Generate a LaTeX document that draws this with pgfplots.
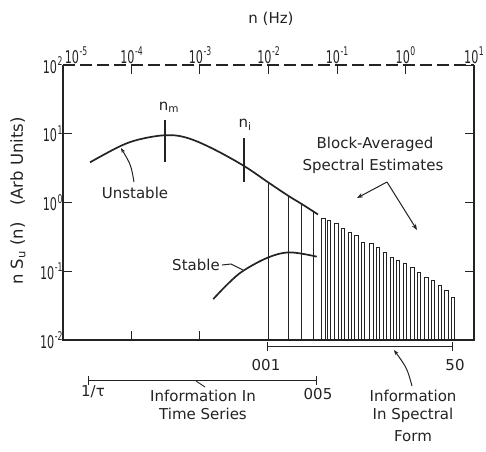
\documentclass[border=0pt]{standalone}
\usepackage{fontspec}
\setmainfont{DejaVu Sans}
\newfontfamily\tickfont{DejaVu Sans}[FakeStretch=0.64]
\usepackage{pgfplots}
\pgfplotsset{compat=1.18}
\usetikzlibrary{arrows.meta}
\definecolor{ink}{RGB}{35,35,35}
\newcommand\lab{\fontsize{15}{17}\selectfont}
\newcommand\tl[1]{{\tickfont\fontsize{17.5}{19}\selectfont 10\kern0.5pt\raisebox{0.42em}{\fontsize{12}{12}\selectfont #1}}}
\begin{document}
\begin{tikzpicture}[color=ink]
\begin{axis}[
  name=ax, at={(0,0)}, anchor=south west,
  scale only axis, width=411pt, height=275pt,
  xmode=log, ymode=log, xmin=1e-5, xmax=10, ymin=1e-2, ymax=100,
  log origin y=infty,
  axis line style={draw=none},
  clip=false,
  xtick={1e-5,1e-4,1e-3,1e-2,1e-1,1,10},
  xticklabels={\hspace{26pt}\tl{-5},\tl{-4},\tl{-3},\tl{-2},\tl{-1},\tl{0},\tl{1}},
  xticklabel pos=upper, xtick pos=both,
  ytick={1e-2,1e-1,1,10,100},
  yticklabels={\tl{-2},\tl{-1},\tl{0},\tl{1},\tl{2}},
  ytick pos=both, yticklabel pos=lower,
  tick align=inside, major tick length=9pt,
  minor tick style={draw=none},
  major tick style={ink, line width=1pt},
  tick label style={text=ink},
  xticklabel style={yshift=-2pt},
  yticklabel style={xshift=3pt},
]
% Unstable spectrum
\addplot[ink, line width=1.7pt, smooth, tension=0.6] coordinates {
 (2.48e-5,3.84) (6.79e-5,6.58) (1.33e-4,8.32) (3.08e-4,9.51) (6.04e-4,8.89)
 (1.40e-3,6.35) (4.25e-3,3.47) (0.01,1.95) (0.0195,1.25) (0.0306,0.95) (0.0528,0.67)};
% Stable spectrum
\addplot[ink, line width=1.7pt, smooth, tension=0.6] coordinates {
 (1.56e-3,0.0393) (2.57e-3,0.066) (4.28e-3,0.1016) (9.93e-3,0.159) (0.0206,0.188) (0.0506,0.163)};
% full-height estimate lines
\addplot[ycomb, ink, line width=1.1pt] coordinates {
 (0.01,1.95) (0.0195,1.25) (0.0306,0.95) (0.0451,0.76)};
% block-averaged spectral estimates
\addplot[ybar, bar width=3.5pt, bar shift=0pt, fill=white, draw=ink, line width=1pt] coordinates {
 (0.0631,0.583) (0.0764,0.546) (0.0991,0.493) (0.1225,0.417) (0.155,0.368)
 (0.194,0.330) (0.240,0.263) (0.321,0.252) (0.397,0.222) (0.502,0.188)
 (0.630,0.159) (0.778,0.142) (0.984,0.129) (1.27,0.114) (1.57,0.0960)
 (2.04,0.0811) (2.52,0.0726) (3.19,0.0614) (3.99,0.0519) (4.93,0.0415)};
\end{axis}
\begin{scope}[shift={(-63pt,340pt)}, x=1pt, y=-1pt, font=\lab, text=ink]
% frame
\draw[line width=1.6pt] (63,65) -- (63,340) -- (474,340) -- (474,65);
\draw[line width=1.3pt, dash pattern=on 12pt off 5pt] (63,65) -- (474,65);
% axis titles
\node at (271,19) {n (Hz)};
\node[rotate=90, font=\fontsize{16.5}{18}\selectfont] at (18,201) {n S\textsubscript{u} (n)\quad(Arb Units)};
% markers
\draw[line width=1.3pt] (165,120) -- (165,162);
\draw[line width=1.3pt] (244,138) -- (244,182);
\node at (169,107) {n\textsubscript{m}};
\node at (245,125) {n\textsubscript{i}};
% labels on curves
\node at (135,193) {Unstable};
\draw[line width=1pt, -{Stealth[length=5pt]}] (134,182) .. controls (131,165) .. (121,148);
\node at (196,265) {Stable};
\draw[line width=1pt] (222,265) -- (231,264) -- (243,270);
\node at (375,144) {Block-Averaged};
\node at (373,166) {Spectral Estimates};
\draw[line width=1pt, -{Stealth[length=6pt]}] (387,182) -- (357,198);
\draw[line width=1pt, -{Stealth[length=6pt]}] (387,182) -- (417,230);
% lower scale
\node at (266,365) {001};
\node at (455,365) {50};
\draw[line width=1pt, {Bar[width=9pt]}-{Bar[width=9pt]}] (267,346) -- (453,346);
\draw[line width=1pt, {Bar[width=9pt]}-{Bar[width=9pt]}] (88,380) -- (317,380);
\node at (93,392) {1/τ};
\node at (203,396) {Information In};
\node at (203,414) {Time Series};
\node at (318,394) {005};
\node at (413,396) {Information};
\node at (413,415) {In Spectral};
\node at (413,436) {Form};
\draw[line width=1pt, -{Stealth[length=5pt]}] (412,386) .. controls (407,368) .. (394,350);
\draw[line width=0.9pt] (205,387) -- (196,381);
\pgfresetboundingbox
\path (0,0) rectangle (486,451);
\end{scope}
\end{tikzpicture}
\end{document}
